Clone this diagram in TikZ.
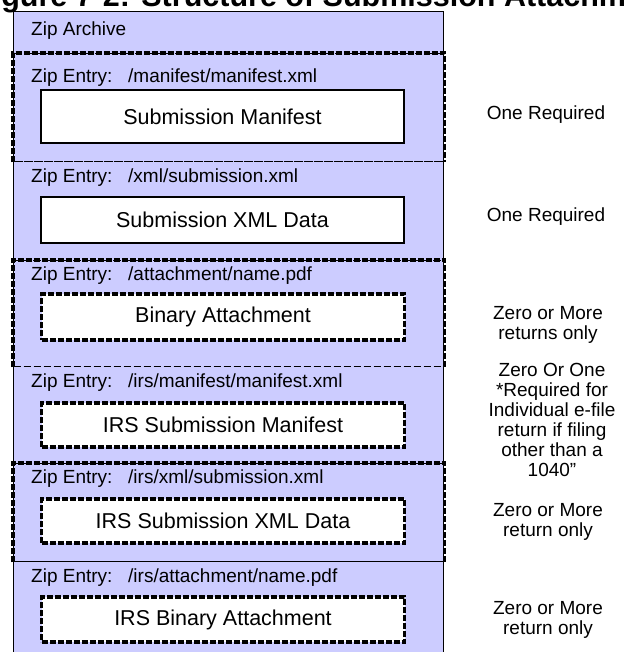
\documentclass[tikz,border=0pt]{standalone}
\usepackage{fontspec}
\setmainfont{Liberation Sans}
\usepackage{tikz}
\usetikzlibrary{shapes, positioning}
\definecolor{archivefill}{RGB}{204,204,255}
\newcommand{\zipentry}[1]{\makebox[97pt][l]{Zip Entry:}#1}
\tikzstyle{archive} =
        [
                rectangle,
                draw,
                fill = archivefill,
                line width = 1.4pt,
                anchor = north west,
                minimum width = 430pt,
                minimum height = 660pt,
                inner sep = 0pt
        ]
\tikzstyle{entry} =
        [
                rectangle,
                draw,
                line width = 1.3pt,
                dash pattern = on 7pt off 3pt,
                anchor = north west,
                minimum width = 430pt,
                inner sep = 0pt
        ]
\tikzstyle{heavydash} =
        [
                draw,
                line width = 3.6pt,
                dash pattern = on 6pt off 2pt
        ]
\tikzstyle{block} =
        [
                rectangle,
                draw,
                fill = white,
                line width = 1.3pt,
                minimum width = 363pt,
                minimum height = 46pt,
                font = \fontsize{21.5}{24}\selectfont
        ]
\tikzstyle{optblock} =
        [
                block,
                line width = 3.6pt,
                dash pattern = on 6pt off 2pt
        ]
\tikzstyle{entryname} =
        [
                anchor = base west,
                inner sep = 0pt,
                font = \fontsize{19}{22}\selectfont
        ]
\tikzstyle{note} =
        [
                align = center,
                font = \fontsize{19}{20}\selectfont
        ]
\tikzstyle{caption} =
        [
                anchor = base west,
                inner sep = 0pt,
                font = \fontsize{30.5}{34}\selectfont\bfseries
        ]

\begin{document}
\begin{tikzpicture}[x = 1pt, y = -1pt]
        \useasboundingbox (0,0) rectangle (623,652);
        \clip (0,0) rectangle (623,652);
        \node [caption] (title) at (-26,7) {Figure 7-2: Structure of Submission Attachment};
        \node [archive] (zip) at (13,11) {};
        \node [entryname] (zipname) at (31,36) {Zip Archive};
        \node [entry, minimum height = 108pt] (e1) at (13,53) {};
        \node [entry, minimum height = 99pt] (e2) at (13,161) {};
        \node [entry, minimum height = 106pt] (e3) at (13,260) {};
        \node [entry, minimum height = 97pt] (e4) at (13,366) {};
        \node [entry, minimum height = 98pt] (e5) at (13,463) {};
        \node [entry, minimum height = 110pt] (e6) at (13,561) {};
        \path [heavydash] (e1.south west) |- (e1.north east) -- (e1.south east);
        \path [heavydash] (e3.south west) |- (e3.north east) -- (e3.south east);
        \path [heavydash] (e5.south west) |- (e5.north east) -- (e5.south east);
        \node [entryname] (n1) at (31,83) {\zipentry{/manifest/manifest.xml}};
        \node [entryname] (n2) at (31,183) {\zipentry{/xml/submission.xml}};
        \node [entryname] (n3) at (31,280) {\zipentry{/attachment/name.pdf}};
        \node [entryname] (n4) at (31,387) {\zipentry{/irs/manifest/manifest.xml}};
        \node [entryname] (n5) at (31,483) {\zipentry{/irs/xml/submission.xml}};
        \node [entryname] (n6) at (31,582) {\zipentry{/irs/attachment/name.pdf}};
        \node [block, minimum height = 53pt] (manifest) at (222.5,116.5) {Submission Manifest};
        \node [block] (xmldata) at (222.5,220) {Submission XML Data};
        \node [optblock] (binary) at (223,317) {Binary Attachment};
        \node [optblock, minimum height = 44pt] (irsmanifest) at (223,425) {IRS Submission Manifest};
        \node [optblock, minimum height = 44pt] (irsxmldata) at (223,521) {IRS Submission XML Data};
        \node [optblock, minimum height = 45pt] (irsbinary) at (223,619.5) {IRS Binary Attachment};
        \node [note] (r1) at (546,115) {One Required};
        \node [note] (r2) at (546,217) {One Required};
        \node [note] (r3) at (548,325) {Zero or More\\returns only};
        \node [note] (r4) at (552,420) {Zero Or One\\*Required for\\Individual e-file\\return if filing\\other than a\\1040”};
        \node [note] (r5) at (548,522) {Zero or More\\return only};
        \node [note] (r6) at (548,620) {Zero or More\\return only};
\end{tikzpicture}
\end{document}
